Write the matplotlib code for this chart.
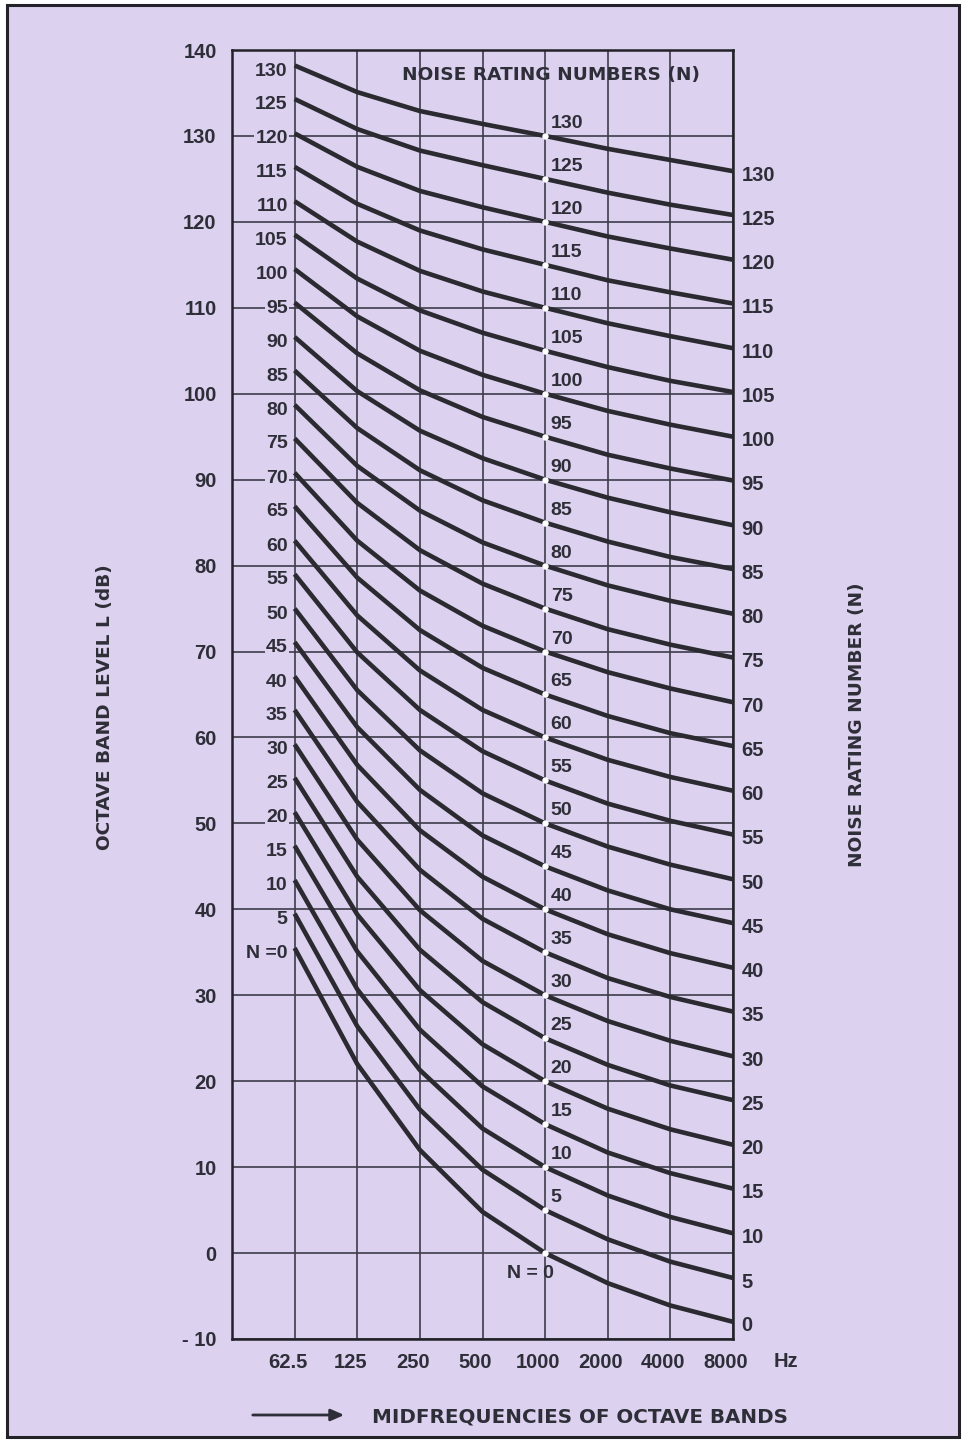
import matplotlib
matplotlib.use("Agg")
import matplotlib.pyplot as plt
import numpy as np
from matplotlib.patches import Rectangle
from matplotlib.transforms import ScaledTranslation

plt.rcParams['font.family'] = ['Liberation Sans', 'DejaVu Sans']
plt.rcParams['font.weight'] = 'bold'
#-------------------------------------------------
# data
#-------------------------------------------------
freqs      = [62.5, 125, 250, 500, 1000, 2000, 4000, 8000]
freq_lab   = ["62.5", "125", "250", "500", "1000", "2000", "4000", "8000"]
N          = [0, 5, 10, 15, 20, 25, 30, 35, 40, 45, 50, 55, 60, 65,
              70, 75, 80, 85, 90, 95, 100, 105, 110, 115, 120, 125, 130]
# octave band level (dB) of each NR curve, per band
L63   = [35.5, 39.5, 43.4, 47.4, 51.3, 55.3, 59.2, 63.2, 67.1, 71.1, 75.0, 79.0, 82.9, 86.9,
         90.8, 94.8, 98.7, 102.7, 106.6, 110.6, 114.5, 118.5, 122.4, 126.4, 130.3, 134.3, 138.2]
L125  = [22.0, 26.4, 30.7, 35.1, 39.4, 43.8, 48.1, 52.5, 56.8, 61.2, 65.5, 69.9, 74.2, 78.6,
         82.9, 87.3, 91.6, 96.0, 100.3, 104.7, 109.0, 113.4, 117.7, 122.1, 126.4, 130.8, 135.1]
L250  = [12.0, 16.7, 21.3, 26.0, 30.6, 35.3, 39.9, 44.6, 49.2, 53.9, 58.5, 63.2, 67.8, 72.5,
         77.1, 81.8, 86.4, 91.1, 95.7, 100.4, 105.0, 109.7, 114.3, 119.0, 123.6, 128.3, 132.9]
L500  = [4.8, 9.7, 14.5, 19.4, 24.3, 29.2, 34.0, 38.9, 43.8, 48.6, 53.5, 58.4, 63.2, 68.1,
         73.0, 77.9, 82.7, 87.6, 92.5, 97.3, 102.2, 107.1, 111.9, 116.8, 121.7, 126.6, 131.4]
L1000 = [0, 5, 10, 15, 20, 25, 30, 35, 40, 45, 50, 55, 60, 65,
         70, 75, 80, 85, 90, 95, 100, 105, 110, 115, 120, 125, 130]
L2000 = [-3.5, 1.6, 6.7, 11.7, 16.8, 21.9, 27.0, 32.0, 37.1, 42.2, 47.3, 52.3, 57.4, 62.5,
         67.6, 72.6, 77.7, 82.8, 87.9, 92.9, 98.0, 103.1, 108.2, 113.2, 118.3, 123.4, 128.5]
L4000 = [-6.1, -1.0, 4.2, 9.3, 14.4, 19.5, 24.7, 29.8, 34.9, 40.0, 45.2, 50.3, 55.4, 60.5,
         65.7, 70.8, 75.9, 81.0, 86.2, 91.3, 96.4, 101.5, 106.7, 111.8, 116.9, 122.0, 127.2]
L8000 = [-8.0, -2.9, 2.3, 7.5, 12.6, 17.8, 22.9, 28.1, 33.2, 38.4, 43.5, 48.7, 53.8, 59.0,
         64.1, 69.3, 74.4, 79.6, 84.7, 89.9, 95.0, 100.2, 105.3, 110.5, 115.6, 120.8, 125.9]
levels = np.array([L63, L125, L250, L500, L1000, L2000, L4000, L8000])   # band x curve

#-------------------------------------------------
# style
#-------------------------------------------------
bg   = '#dcd1ef'
ink  = '#2e2e38'
grd  = '#3c3c4a'
caps = ['DejaVu Sans']      # wider face for the spaced capitals

fig = plt.figure(figsize=(9.7, 14.4), dpi=100, facecolor='white')
# page frame
fig.patches.append(Rectangle((7/970, 1-1437/1440), 952/970, 1432/1440, transform=fig.transFigure,
                             facecolor=bg, edgecolor='#222228', lw=2.2, zorder=-5))

ax = fig.add_axes([232/970, 1-1339/1440, 501/970, 1289/1440])
ax.set_facecolor(bg)
ax.set_xscale('log', base=2)
ax.set_xlim(31.25, 8000)
ax.set_ylim(-10, 140)

ax.set_xticks(freqs)
ax.set_xticklabels(freq_lab)
ax.set_yticks(np.arange(-10, 141, 10))
ax.set_yticklabels([str(v) if v >= 0 else "- 10" for v in np.arange(-10, 141, 10)])
ax.xaxis.set_minor_locator(matplotlib.ticker.NullLocator())
ax.tick_params(length=0, labelsize=14.5, labelcolor=ink)
ax.tick_params(axis='x', pad=10)
ax.tick_params(axis='y', pad=11)
off = ScaledTranslation(-7/100, 0, fig.dpi_scale_trans)
for lab in ax.get_xticklabels():
    lab.set_transform(lab.get_transform() + off)

ax.grid(True, color=grd, lw=1.2)
ax.set_axisbelow(True)
for s in ax.spines.values():
    s.set_color('#222228'); s.set_linewidth(1.8)

# curves
for i, n in enumerate(N):
    ax.plot(freqs, levels[:, i], color='#2a2a30', lw=3.3, solid_capstyle='butt', zorder=3)
ax.plot([1000]*len(N), L1000, linestyle='', marker='o', ms=3.6, mfc='white', mec='white', zorder=4)

# labels at start of curves
for i, n in enumerate(N):
    txt = "N =0" if n == 0 else str(n)
    ax.annotate(txt, (62.5, levels[0, i]), xytext=(-5, -4), textcoords='offset points',
                ha='right', va='center', fontsize=14, color=ink, zorder=5,
                bbox=dict(boxstyle='square,pad=0.05', fc=bg, ec='none'))
# labels on the 1000 Hz line
for i, n in enumerate(N):
    if n == 0:
        ax.annotate("N = 0", (1000, 0), xytext=(6, -15), textcoords='offset points',
                    ha='right', va='center', fontsize=14, color=ink, zorder=5)
    else:
        ax.annotate(str(n), (1000, levels[4, i]), xytext=(4, 9), textcoords='offset points',
                    ha='left', va='center', fontsize=14, color=ink, zorder=5)
# labels at end of curves
for i, n in enumerate(N):
    ax.annotate(str(n), (8000, levels[7, i]), xytext=(6, -3), textcoords='offset points',
                ha='left', va='center', fontsize=14.5, color=ink, annotation_clip=False)

ax.annotate("NOISE RATING NUMBERS (N)", (1000, 137.1), xytext=(4, 0), textcoords='offset points',
            ha='center', va='center', fontsize=13.3, color=ink, family=caps)
ax.annotate("Hz", (8000, -10), xytext=(38, -16), textcoords='offset points',
            ha='center', va='center', fontsize=14.5, color=ink, annotation_clip=False)

# axis titles
fig.text(105/970, 1-707/1440, "OCTAVE BAND LEVEL L (dB)", rotation=90, ha='center', va='center',
         fontsize=13.3, color=ink, family=caps)
fig.text(857/970, 1-725/1440, "NOISE RATING NUMBER (N)", rotation=90, ha='center', va='center',
         fontsize=13.3, color=ink, family=caps)
fig.text(580/970, 1-1417/1440, "MIDFREQUENCIES OF OCTAVE BANDS", ha='center', va='center',
         fontsize=14.3, color=ink, family=caps)
fig.add_artist(matplotlib.patches.FancyArrowPatch((250/970, 1-1415/1440), (347/970, 1-1415/1440),
               transform=fig.transFigure, arrowstyle='-|>,head_length=8,head_width=3.5',
               color=ink, lw=2))

fig.savefig("out.png", dpi=100, facecolor=fig.get_facecolor())
